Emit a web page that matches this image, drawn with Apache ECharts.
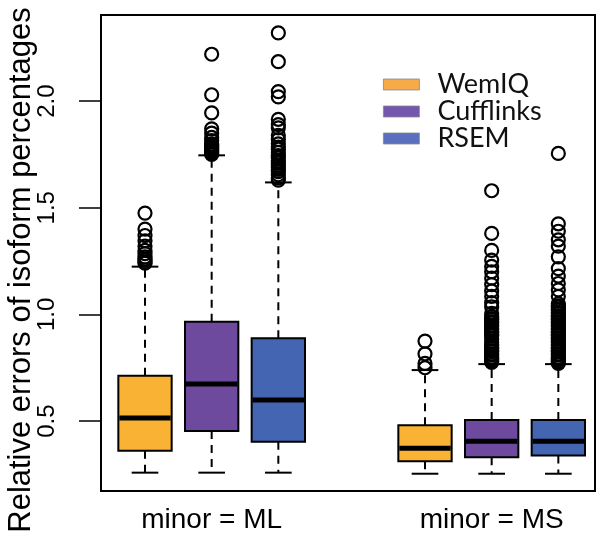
<!DOCTYPE html>
<html>
<head>
<meta charset="utf-8">
<script src="https://cdn.jsdelivr.net/npm/echarts@6/dist/echarts.min.js"></script>
<style>html,body{margin:0;padding:0;background:#fff;}#c{width:601px;height:537px;}</style>
</head>
<body>
<div id="c"></div>
<script>
// ---- data ----
const methods = ['WemIQ', 'Cufflinks', 'RSEM'];
const groups = ['minor = ML', 'minor = MS'];
const groupPos = [2, 6.2];
const methodPos = [[1, 5.2], [2, 6.2], [3, 7.2]];
const yTicks = [0.5, 1.0, 1.5, 2.0];
// box stats: [lower whisker, Q1, median, Q3, upper whisker] for ML and MS
const wemiqBoxes = [[0.258, 0.361, 0.514, 0.713, 1.224], [0.253, 0.311, 0.372, 0.480, 0.739]];
const cufflinksBoxes = [[0.258, 0.453, 0.674, 0.966, 1.746], [0.253, 0.330, 0.405, 0.505, 0.767]];
const rsemBoxes = [[0.258, 0.403, 0.599, 0.888, 1.619], [0.253, 0.338, 0.405, 0.505, 0.767]];
// outliers per group (ML, MS)
const wemiqOut = [
  [1.475, 1.40, 1.37, 1.345, 1.32, 1.30, 1.285, 1.27, 1.26, 1.255, 1.245, 1.24],
  [0.875, 0.815, 0.77, 0.75]
];
const cufflinksOut = [
  [2.22, 2.03, 1.945, 1.87, 1.85, 1.83, 1.815, 1.80, 1.795, 1.79, 1.785, 1.78, 1.775, 1.77, 1.765, 1.76, 1.755, 1.75],
  [1.58, 1.38, 1.30, 1.255, 1.225, 1.20, 1.17, 1.14, 1.11, 1.085, 1.055, 1.035, 1.005, 0.99, 0.98, 0.975, 0.965, 0.96, 0.95, 0.945, 0.935, 0.93, 0.92, 0.915, 0.905, 0.90, 0.885, 0.87, 0.86, 0.855, 0.845, 0.84, 0.83, 0.825, 0.815, 0.81, 0.80, 0.795, 0.79, 0.785, 0.78, 0.775]
];
const rsemOut = [
  [2.32, 2.185, 2.045, 2.02, 1.915, 1.89, 1.875, 1.84, 1.82, 1.80, 1.785, 1.775, 1.76, 1.745, 1.735, 1.72, 1.71, 1.70, 1.69, 1.68, 1.67, 1.655, 1.64, 1.63],
  [1.755, 1.425, 1.39, 1.35, 1.32, 1.27, 1.215, 1.18, 1.145, 1.115, 1.085, 1.05, 1.04, 1.035, 1.025, 1.02, 1.01, 1.005, 0.995, 0.99, 0.98, 0.975, 0.965, 0.96, 0.95, 0.945, 0.935, 0.93, 0.92, 0.915, 0.905, 0.90, 0.89, 0.885, 0.875, 0.87, 0.86, 0.855, 0.845, 0.84, 0.83, 0.825, 0.815, 0.81, 0.80, 0.795, 0.79, 0.785, 0.78, 0.775, 0.77]
];
const yAxisTitle = 'Relative errors of isoform percentages';

// ---- style ----
const boxColors = ['#F9B233', '#6E4A9E', '#4466B2'];
const legendColors = ['#F6AA48', '#7457AE', '#5B6FC0'];
const allBoxes = [wemiqBoxes, cufflinksBoxes, rsemBoxes];
const allOut = [wemiqOut, cufflinksOut, rsemOut];

function renderBox(params, api) {
  const x = api.value(0);
  const lo = api.coord([x, api.value(1)]);
  const q1 = api.coord([x, api.value(2)]);
  const md = api.coord([x, api.value(3)]);
  const q3 = api.coord([x, api.value(4)]);
  const hi = api.coord([x, api.value(5)]);
  const w = api.size([0.8, 0])[0];
  const sw = w / 2;
  const cx = lo[0];
  const fill = api.visual('color');
  const dash = {stroke: '#000', lineWidth: 2, lineDash: [8, 6]};
  const solid = {stroke: '#000', lineWidth: 2};
  return {
    type: 'group',
    children: [
      {type: 'line', shape: {x1: cx, y1: q1[1], x2: cx, y2: lo[1]}, style: dash},
      {type: 'line', shape: {x1: cx, y1: q3[1], x2: cx, y2: hi[1]}, style: dash},
      {type: 'line', shape: {x1: cx - sw / 2, y1: lo[1], x2: cx + sw / 2, y2: lo[1]}, style: solid},
      {type: 'line', shape: {x1: cx - sw / 2, y1: hi[1], x2: cx + sw / 2, y2: hi[1]}, style: solid},
      {type: 'rect', shape: {x: cx - w / 2, y: q3[1], width: w, height: q1[1] - q3[1]},
        style: {fill: fill, stroke: '#000', lineWidth: 2}},
      {type: 'line', shape: {x1: cx - w / 2 + 1, y1: md[1], x2: cx + w / 2 - 1, y2: md[1]},
        style: {stroke: '#000', lineWidth: 5}}
    ]
  };
}

const series = [];
methods.forEach(function (m, i) {
  series.push({
    name: m,
    type: 'custom',
    renderItem: renderBox,
    itemStyle: {color: boxColors[i]},
    encode: {x: 0, y: [1, 2, 3, 4, 5]},
    data: allBoxes[i].map(function (b, g) { return [methodPos[i][g]].concat(b); }),
    z: 2
  });
});
methods.forEach(function (m, i) {
  const pts = [];
  allOut[i].forEach(function (arr, g) {
    arr.forEach(function (v) { pts.push([methodPos[i][g], v]); });
  });
  series.push({
    name: m + ' outliers',
    type: 'scatter',
    symbol: 'circle',
    symbolSize: 13,
    itemStyle: {color: 'rgba(0,0,0,0)', borderColor: '#000', borderWidth: 2.2, opacity: 1},
    data: pts,
    z: 3
  });
});

const chart = echarts.init(document.getElementById('c'), null, {renderer: 'canvas'});
chart.setOption({
  animation: false,
  backgroundColor: '#fff',
  grid: {left: 101, right: 6, top: 15, bottom: 46, show: true, borderColor: '#000', borderWidth: 2,
    backgroundColor: 'rgba(0,0,0,0)', containLabel: false, outerBoundsMode: 'none'},
  legend: {
    data: methods.map(function (m, i) { return {name: m, itemStyle: {color: legendColors[i], borderColor: '#888', borderWidth: 0.8}}; }),
    orient: 'vertical',
    left: 378,
    top: 66,
    icon: 'rect',
    itemWidth: 36,
    itemHeight: 11,
    itemGap: 0,
    selectedMode: false,
    textStyle: {fontFamily: 'Lato', fontSize: 27, color: '#111', lineHeight: 26, padding: [0, 0, 0, 13]}
  },
  xAxis: {
    type: 'value',
    min: 0.34,
    max: 7.75,
    splitLine: {show: false},
    axisLine: {show: false},
    axisTick: {show: false},
    axisLabel: {
      customValues: groupPos,
      formatter: function (v) {
        for (let k = 0; k < groupPos.length; k++) { if (Math.abs(groupPos[k] - v) < 1e-6) return groups[k]; }
        return '';
      },
      fontFamily: 'Liberation Sans', fontSize: 28, color: '#000', margin: 15
    }
  },
  yAxis: {
    type: 'value',
    min: 0.172,
    max: 2.404,
    splitLine: {show: false},
    axisLine: {show: false},
    axisTick: {show: true, customValues: yTicks, length: 22, lineStyle: {color: '#000', width: 1.5}},
    axisLabel: {
      customValues: yTicks,
      formatter: function (v) { return v.toFixed(1); },
      rotate: 90, fontFamily: 'Liberation Sans', fontSize: 24, color: '#000', margin: 42
    },
    name: yAxisTitle,
    nameLocation: 'middle',
    nameGap: 64,
    nameMoveOverlap: false,
    nameTextStyle: {fontFamily: 'Liberation Sans', fontSize: 31, color: '#000', padding: [0, 34, 0, 0]}
  },
  series: series
});
</script>
</body>
</html>
